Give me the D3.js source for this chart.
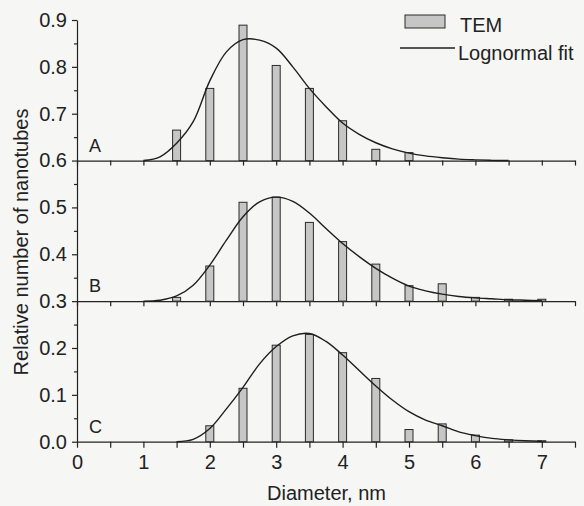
<!DOCTYPE html>
<html>
<head>
<meta charset="utf-8">
<script src="https://cdn.jsdelivr.net/npm/d3@7"></script>
<style>
  body { margin: 0; background: #f6f6f4; }
  svg { display: block; font-family: "Liberation Sans", Arial, sans-serif; }
  .axis path, .axis line { stroke: #222; stroke-width: 1.2; }
  .axis text { font-size: 20px; fill: #222; font-family: "Liberation Sans", Arial, sans-serif; }
</style>
</head>
<body>
<script>
// bar positions (nm) and TEM histogram heights, per panel (above its baseline)
const diameters = [1.5, 2, 2.5, 3, 3.5, 4, 4.5, 5, 5.5, 6, 6.5, 7];
const temA = [0.065, 0.154, 0.289, 0.203, 0.154, 0.085, 0.024, 0.017, 0, 0, 0, 0];
const temB = [0.008, 0.075, 0.211, 0.222, 0.168, 0.127, 0.079, 0.033, 0.037, 0.008, 0.004, 0.004];
const temC = [0, 0.034, 0.114, 0.206, 0.229, 0.19, 0.135, 0.026, 0.038, 0.014, 0.004, 0.002];

// lognormal fit curves
const fitX = [1, 1.25, 1.5, 1.75, 2, 2.25, 2.5, 2.75, 3, 3.25, 3.5, 3.75, 4, 4.25, 4.5, 4.75, 5, 5.25, 5.5, 5.75, 6, 6.25, 6.5, 6.75, 7];
const fitA = [0, 0.008, 0.037, 0.083, 0.17, 0.232, 0.258, 0.257, 0.24, 0.2, 0.154, 0.115, 0.08, 0.056, 0.038, 0.025, 0.016, 0.01, 0.006, 0.003, 0.0015, 0.0005, 0, null, null];
const fitB = [0, 0.002, 0.011, 0.034, 0.077, 0.13, 0.18, 0.212, 0.222, 0.213, 0.188, 0.155, 0.123, 0.095, 0.07, 0.049, 0.032, 0.022, 0.015, 0.01, 0.007, 0.005, 0.003, 0.002, 0.001];
const fitC = [null, null, 0, 0.005, 0.028, 0.07, 0.116, 0.166, 0.203, 0.226, 0.231, 0.214, 0.185, 0.152, 0.119, 0.089, 0.064, 0.046, 0.034, 0.021, 0.013, 0.007, 0.004, 0.002, 0.001];

const panelNames = ["A", "B", "C"];
const panelOffsets = [0.6, 0.3, 0];

const yTicks = [0, 0.1, 0.2, 0.3, 0.4, 0.5, 0.6, 0.7, 0.8, 0.9];
const xTicks = [0, 0.5, 1, 1.5, 2, 2.5, 3, 3.5, 4, 4.5, 5, 5.5, 6, 6.5, 7, 7.5];

var width = 584,
  height = 506;

const svg = d3
  .select("body")
  .append("svg")
  .attr("width", width)
  .attr("height", height);

const x = d3.scaleLinear().domain([0, 7.5]).range([77, 575]);
const y = d3.scaleLinear().domain([0, 0.9]).range([441.7, 20]);

// y axis with minor ticks
svg
  .append("g")
  .attr("class", "axis")
  .attr("transform", "translate(" + x(0) + ",0)")
  .call(d3.axisLeft(y).tickValues(yTicks).tickFormat(d3.format(".1f")).tickSize(5).tickSizeOuter(0).tickPadding(5));

svg
  .append("g")
  .attr("class", "axis")
  .attr("transform", "translate(" + x(0) + ",0)")
  .call(d3.axisLeft(y).tickValues(yTicks.slice(0, -1).map((d) => d + 0.05)).tickFormat("").tickSize(3).tickSizeOuter(0))
  .select(".domain")
  .remove();

// bottom axis
svg
  .append("g")
  .attr("class", "axis")
  .attr("transform", "translate(0," + y(0) + ")")
  .call(
    d3
      .axisBottom(x)
      .tickValues(xTicks)
      .tickFormat((d) => (Number.isInteger(d) && d < 7.5 ? d : ""))
      .tickSize(6)
      .tickSizeOuter(0)
      .tickPadding(7)
  );

// panel baselines at 0.6 and 0.3
panelOffsets.slice(0, 2).forEach(function (off) {
  svg
    .append("g")
    .attr("class", "axis")
    .attr("transform", "translate(0," + y(off) + ")")
    .call(d3.axisBottom(x).tickValues(xTicks).tickFormat("").tickSize(5).tickSizeOuter(0));
});

const temSets = [temA, temB, temC];
const fitSets = [fitA, fitB, fitC];

const line = d3
  .line()
  .defined((d) => d[1] != null)
  .x((d) => x(d[0]))
  .curve(d3.curveCatmullRom.alpha(0.5));

panelNames.forEach(function (name, i) {
  const off = panelOffsets[i];
  const bars = diameters
    .map((d, j) => ({ d: d, v: temSets[i][j] }))
    .filter((b) => b.v > 0);

  svg
    .append("g")
    .selectAll("rect")
    .data(bars)
    .enter()
    .append("rect")
    .attr("x", (b) => x(b.d) - 4)
    .attr("y", (b) => y(off + b.v))
    .attr("width", 8)
    .attr("height", (b) => y(off) - y(off + b.v))
    .attr("fill", "#c6c6c6")
    .attr("stroke", "#2a2a2a")
    .attr("stroke-width", 1);

  svg
    .append("path")
    .datum(fitX.map((d, j) => [d, fitSets[i][j]]))
    .attr("fill", "none")
    .attr("stroke", "#1e1e1e")
    .attr("stroke-width", 1.4)
    .attr("d", line.y((d) => y(off + d[1])));

  svg
    .append("text")
    .attr("x", x(0) + 12)
    .attr("y", y(off) - 9)
    .attr("font-size", 18)
    .attr("fill", "#222")
    .text(name);
});

// legend
svg
  .append("rect")
  .attr("x", 405)
  .attr("y", 15)
  .attr("width", 40)
  .attr("height", 13)
  .attr("fill", "#c6c6c6")
  .attr("stroke", "#2a2a2a");
svg
  .append("text")
  .attr("x", 460)
  .attr("y", 32)
  .attr("font-size", 20)
  .attr("fill", "#222")
  .text("TEM");
svg
  .append("line")
  .attr("x1", 400)
  .attr("x2", 455)
  .attr("y1", 48)
  .attr("y2", 48)
  .attr("stroke", "#1e1e1e")
  .attr("stroke-width", 1.4);
svg
  .append("text")
  .attr("x", 458)
  .attr("y", 60)
  .attr("font-size", 20)
  .attr("fill", "#222")
  .text("Lognormal fit");

// axis titles
svg
  .append("text")
  .attr("x", 326.5)
  .attr("y", 500)
  .attr("text-anchor", "middle")
  .attr("font-size", 20)
  .attr("fill", "#222")
  .text("Diameter, nm");

svg
  .append("text")
  .attr("transform", "translate(28,242) rotate(-90)")
  .attr("text-anchor", "middle")
  .attr("font-size", 20)
  .attr("fill", "#222")
  .text("Relative number of nanotubes");
</script>
</body>
</html>
